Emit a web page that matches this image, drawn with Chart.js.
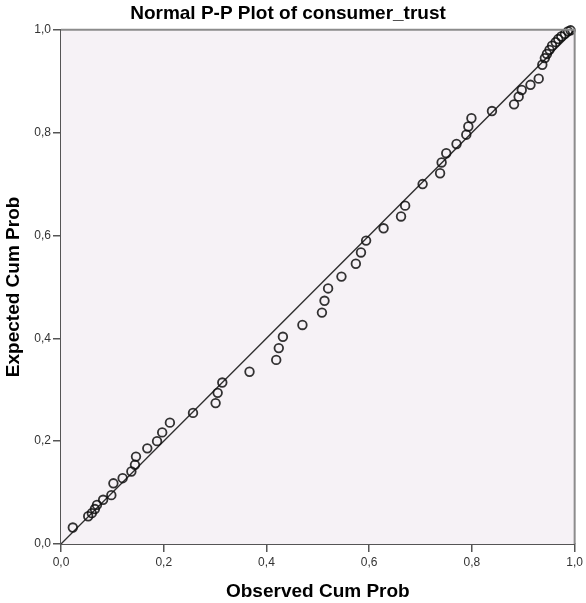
<!DOCTYPE html>
<html>
<head>
<meta charset="utf-8">
<title>Normal P-P Plot of consumer_trust</title>
<script src="https://cdn.jsdelivr.net/npm/chart.js@4.4.1/dist/chart.umd.min.js"></script>
<style>
  html, body { margin: 0; padding: 0; background: #ffffff; }
  #wrap { width: 586px; height: 603px; }
</style>
</head>
<body>
<div id="wrap"><canvas id="ppPlot" width="586" height="603"></canvas></div>
<script>
// ========================
// Data
// ========================
const observedCumProb = [
  0.023, 0.053, 0.060, 0.066, 0.070, 0.082, 0.098, 0.102, 0.120, 0.137,
  0.144, 0.146, 0.168, 0.187, 0.197, 0.212, 0.257, 0.301, 0.305, 0.314,
  0.367, 0.419, 0.424, 0.432, 0.470, 0.508, 0.513, 0.520, 0.546, 0.574,
  0.584, 0.594, 0.628, 0.662, 0.670, 0.704, 0.738, 0.741, 0.750, 0.770,
  0.789, 0.793, 0.799, 0.839, 0.882, 0.891, 0.897, 0.914, 0.930, 0.937,
  0.942, 0.946, 0.951, 0.956, 0.963, 0.968, 0.974, 0.981, 0.987, 0.992
];
const expectedCumProb = [
  0.032, 0.054, 0.060, 0.068, 0.076, 0.086, 0.095, 0.118, 0.128, 0.141,
  0.154, 0.170, 0.186, 0.200, 0.217, 0.236, 0.255, 0.274, 0.294, 0.314,
  0.335, 0.358, 0.381, 0.403, 0.426, 0.450, 0.473, 0.497, 0.520, 0.545,
  0.567, 0.590, 0.614, 0.637, 0.658, 0.700, 0.721, 0.742, 0.760, 0.778,
  0.796, 0.812, 0.828, 0.842, 0.855, 0.870, 0.883, 0.893, 0.905, 0.932,
  0.945, 0.953, 0.961, 0.969, 0.976, 0.982, 0.987, 0.992, 0.997, 0.999
];
const referenceLine = [0, 1];
const tickValues = [0, 0.2, 0.4, 0.6, 0.8, 1.0];

const points = observedCumProb.map((x, i) => ({ x: x, y: expectedCumProb[i] }));
const diagonal = referenceLine.map(v => ({ x: v, y: v }));

const fmt = v => Number(v).toFixed(1).replace('.', ',');

// ========================
// Plot frame (background + top/right border)
// ========================
const framePlugin = {
  id: 'frame',
  beforeDatasetsDraw(chart) {
    const { ctx, chartArea: a } = chart;
    ctx.save();
    ctx.fillStyle = '#f6f2f6';
    ctx.fillRect(a.left, a.top, a.right - a.left, a.bottom - a.top);
    ctx.restore();
  },
  afterDraw(chart) {
    const { ctx, chartArea: a } = chart;
    ctx.save();
    ctx.strokeStyle = '#8c8c8c';
    ctx.lineWidth = 2;
    ctx.beginPath();
    ctx.moveTo(a.left, a.top);
    ctx.lineTo(a.right, a.top);
    ctx.lineTo(a.right, a.bottom);
    ctx.stroke();
    ctx.restore();
  }
};

const titleFont = { family: '"Liberation Sans", Arial, sans-serif', size: 19, weight: 'bold', lineHeight: 1.2 };
const tickFont = { family: '"Liberation Sans", Arial, sans-serif', size: 12 };

// ========================
// Chart
// ========================
new Chart(document.getElementById('ppPlot').getContext('2d'), {
  type: 'scatter',
  data: {
    datasets: [
      {
        type: 'line',
        label: 'Reference',
        data: diagonal,
        borderColor: '#2e2e2e',
        borderWidth: 1.3,
        pointRadius: 0,
        fill: false,
        order: 2
      },
      {
        label: 'consumer_trust',
        data: points,
        showLine: false,
        pointStyle: 'circle',
        pointRadius: 4.3,
        pointBorderWidth: 1.8,
        pointBackgroundColor: 'rgba(0,0,0,0)',
        pointBorderColor: 'rgba(15,15,15,0.85)',
        clip: false,
        order: 1
      }
    ]
  },
  options: {
    responsive: false,
    animation: false,
    layout: { padding: { left: 0, right: 10, top: 0, bottom: 0 } },
    plugins: {
      legend: { display: false },
      tooltip: { enabled: false },
      title: {
        display: true,
        text: 'Normal P-P Plot of consumer_trust',
        color: '#000000',
        font: titleFont,
        padding: { top: 2, bottom: 5 }
      }
    },
    scales: {
      x: {
        type: 'linear',
        min: 0,
        max: 1,
        afterFit: s => { s.height = 59; },
        afterBuildTicks: s => { s.ticks = tickValues.map(v => ({ value: v })); },
        ticks: { callback: fmt, color: '#333333', font: tickFont, padding: 3, maxRotation: 0 },
        grid: { drawOnChartArea: false, drawTicks: true, tickLength: 8, color: '#555555', lineWidth: 1.5 },
        border: { display: true, color: '#555555', width: 2 },
        title: { display: true, text: 'Observed Cum Prob', color: '#000000', font: titleFont, padding: { top: 0, bottom: 0 } }
      },
      y: {
        type: 'linear',
        min: 0,
        max: 1,
        afterFit: s => { s.width = 61; },
        afterBuildTicks: s => { s.ticks = tickValues.map(v => ({ value: v })); },
        ticks: { callback: fmt, color: '#333333', font: tickFont, padding: 2 },
        grid: { drawOnChartArea: false, drawTicks: true, tickLength: 8, color: '#555555', lineWidth: 1.5 },
        border: { display: true, color: '#555555', width: 2 },
        title: { display: true, text: 'Expected Cum Prob', color: '#000000', font: titleFont, padding: { top: 2, bottom: 0 } }
      }
    }
  },
  plugins: [framePlugin]
});
</script>
</body>
</html>
